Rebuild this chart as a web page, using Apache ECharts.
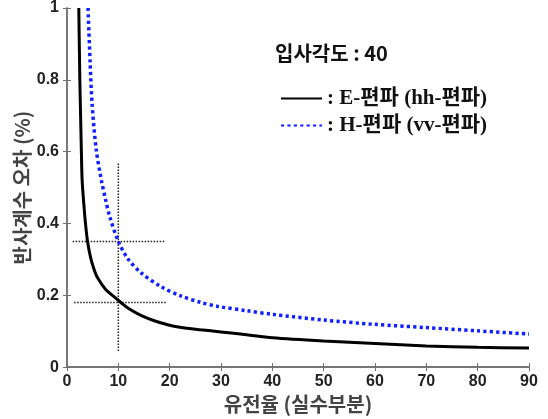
<!DOCTYPE html>
<html><head><meta charset="utf-8">
<script src="https://cdn.jsdelivr.net/npm/echarts@6/dist/echarts.min.js"></script>
<style>html,body{margin:0;padding:0;background:#fff}#c{width:548px;height:419px}</style>
</head><body><div id="c"></div>
<script>
// E-polarization (hh) curve
const eX = [2.3, 2.5, 2.65, 2.8, 2.95, 3.3, 3.6, 4.0, 4.6, 5.2, 5.9, 7.5, 9.5, 10.5, 12, 14.4, 17, 19.6, 22, 26, 30, 35, 40, 50, 60, 70, 80, 90];
const eY = [1.0, 0.8, 0.7, 0.6, 0.52, 0.45, 0.4, 0.35, 0.305, 0.275, 0.25, 0.217, 0.192, 0.18, 0.163, 0.144, 0.129, 0.118, 0.111, 0.104, 0.098, 0.09, 0.082, 0.073, 0.066, 0.059, 0.055, 0.053];
// H-polarization (vv) curve
const hX = [4.1, 4.5, 4.9, 5.7, 6.7, 7.5, 8.3, 10, 11.8, 14.4, 18.3, 22.2, 26.1, 29.4, 35, 40, 50, 60, 70, 80, 90];
const hY = [1.0, 0.85, 0.73, 0.605, 0.52, 0.467, 0.42, 0.35, 0.303, 0.263, 0.224, 0.198, 0.18, 0.169, 0.157, 0.147, 0.131, 0.119, 0.110, 0.101, 0.092];
// guide lines
const guideV = [[10, 0.045], [10, 0.568]];
const guideH1 = [[1.1, 0.35], [19, 0.35]];
const guideH2 = [[1.4, 0.18], [19.4, 0.18]];
const seriesNames = ['E-편파 (hh-편파)', 'H-편파 (vv-편파)'];
const titleText = '입사각도 : 40';
const xName = '유전율 (실수부분)';
const yName = '반사계수 오차 (%)';

const zip = (a, b) => a.map((v, i) => [v, b[i]]);
const chart = echarts.init(document.getElementById('c'), null, {renderer: 'canvas'});
const axisLine = {show: true, lineStyle: {color: '#707070', width: 1.5}};
const tickStyle = {show: true, inside: true, length: 4, lineStyle: {color: '#707070', width: 1}};
const labelFont = {fontFamily: 'Liberation Sans, Arial', fontWeight: 'bold', fontSize: 16, color: '#222'};
const nameFont = {fontFamily: '"Noto Sans CJK KR", sans-serif', fontSize: 20, fontWeight: 'bold', color: '#444'};
const guideStyle = {color: '#222', width: 1.5, type: [1.5, 1.5]};
chart.setOption({
  animation: false,
  grid: {left: 67, right: 19, top: 6, bottom: 51},
  graphic: [{type: 'text', left: 275, top: 43, style: {text: titleText, font: 'bold 20px "Noto Sans CJK KR", sans-serif', fill: '#111'}}],
  legend: {
    orient: 'vertical', left: 275, top: 83, itemWidth: 41, itemHeight: 14, itemGap: 6,
    data: seriesNames,
    formatter: n => ': ' + n,
    itemStyle: {opacity: 0},
    textStyle: {fontFamily: 'Liberation Serif, "Noto Sans CJK KR", serif', fontSize: 21, fontWeight: 'bold', color: '#111'}
  },
  xAxis: [{
    type: 'value', min: 0, max: 90, interval: 10,
    name: xName, nameLocation: 'middle', nameGap: 26,
    nameTextStyle: nameFont,
    axisLine, axisTick: tickStyle, splitLine: {show: false},
    axisLabel: Object.assign({margin: 6}, labelFont)
  }, {
    type: 'value', position: 'top', min: 0, max: 90, interval: 10,
    axisLine, axisTick: tickStyle, splitLine: {show: false}, axisLabel: {show: false}
  }],
  yAxis: [{
    type: 'value', min: 0, max: 1, interval: 0.2,
    name: yName, nameLocation: 'middle', nameGap: 35, nameRotate: 90, nameMoveOverlap: false,
    nameTextStyle: nameFont,
    axisLine, axisTick: tickStyle, splitLine: {show: false},
    axisLabel: Object.assign({margin: 8}, labelFont)
  }, {
    type: 'value', position: 'right', min: 0, max: 1, interval: 0.2,
    axisLine, axisTick: tickStyle, splitLine: {show: false}, axisLabel: {show: false}
  }],
  series: [
    {name: seriesNames[0], type: 'line', data: zip(eX, eY), smooth: 0.3, symbol: 'none',
     lineStyle: {color: '#000', width: 3}, itemStyle: {color: '#000'}, z: 3},
    {name: seriesNames[1], type: 'line', data: zip(hX, hY), smooth: 0.3, symbol: 'none',
     lineStyle: {color: '#1020ff', width: 3.5, type: [3.2, 3.2]}, itemStyle: {color: '#1020ff'}, z: 3},
    {type: 'line', data: guideV, symbol: 'none', lineStyle: guideStyle, silent: true, z: 2},
    {type: 'line', data: guideH1, symbol: 'none', lineStyle: guideStyle, silent: true, z: 2},
    {type: 'line', data: guideH2, symbol: 'none', lineStyle: guideStyle, silent: true, z: 2}
  ]
});
</script></body></html>
